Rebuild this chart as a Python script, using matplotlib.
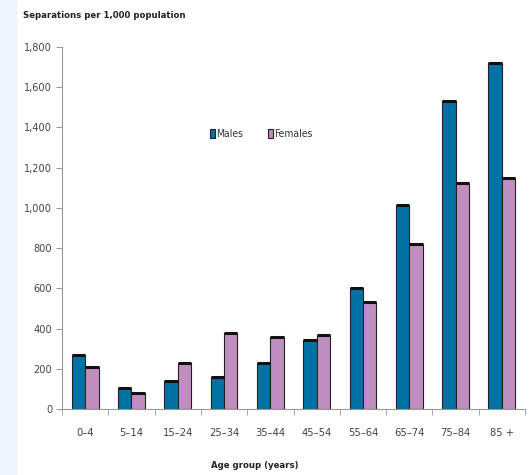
import numpy as np
import matplotlib.pyplot as plt
from matplotlib.patches import Rectangle

age_groups = ["0\u20134", "5\u201314", "15\u201324", "25\u201334", "35\u201344",
              "45\u201354", "55\u201364", "65\u201374", "75\u201384", "85 +"]
males = [268, 103, 137, 158, 230, 345, 602, 1015, 1530, 1722]
females = [207, 80, 230, 378, 358, 370, 532, 820, 1122, 1148]
yticks = [0, 200, 400, 600, 800, 1000, 1200, 1400, 1600, 1800]

plt.rcParams['font.family'] = ['DejaVu Sans Condensed', 'Liberation Sans Narrow', 'DejaVu Sans']
plt.rcParams['font.stretch'] = 'condensed'

fig = plt.figure(figsize=(5.29, 4.75), dpi=100)
# pale strip down the left edge
fig.patches.append(Rectangle((0, 0), 16 / 529, 1, transform=fig.transFigure,
                             color='#eef4fb', zorder=0))

ax = fig.add_axes([62 / 529, 1 - 409 / 475, 463 / 529, 362 / 475])

x = np.arange(len(age_groups))
w = 0.29
ax.bar(x - w / 2, males, w, color='#0072a3', edgecolor='#222222', linewidth=0.8, label='Males')
ax.bar(x + w / 2, females, w, color='#c08dbf', edgecolor='#222222', linewidth=0.8, label='Females')
# heavier dark cap on each bar
ax.hlines(males, x - w, x, colors='#111111', linewidth=2.2)
ax.hlines(females, x, x + w, colors='#111111', linewidth=2.2)

ax.set_xlim(-0.5, len(age_groups) - 0.5)
ax.set_ylim(0, 1800)
ax.set_yticks(yticks)
ax.set_yticklabels([f"{v:,}" for v in yticks])
ax.set_xticks(x)
ax.set_xticklabels(age_groups)
ax.set_xticks(np.arange(len(age_groups) + 1) - 0.5, minor=True)
ax.tick_params(axis='x', which='major', length=0, pad=14, labelsize=8, colors='#444444')
ax.tick_params(axis='x', which='minor', length=4, color='#999999')
ax.tick_params(axis='y', length=4, color='#999999', labelsize=7.8, labelcolor='#444444', pad=3)

for s in ['top', 'right']:
    ax.spines[s].set_visible(False)
ax.spines['left'].set_color('#999999')
ax.spines['bottom'].set_color('#999999')

fig.text(23 / 529, 1 - 15 / 475, "Separations per 1,000 population", fontsize=6.8,
         fontweight='semibold', color='#222222', va='center', ha='left')
fig.text(255 / 529, 1 - 465 / 475, "Age group (years)", fontsize=6.8,
         fontweight='semibold', color='#222222', va='center', ha='center')

ax.legend(loc='center', bbox_to_anchor=(0.43, 0.76), ncol=2, frameon=False,
          fontsize=7.5, handlelength=0.5, handleheight=0.9, handletextpad=0.1,
          columnspacing=2.4, labelcolor='#333333')

fig.savefig('out.png', dpi=100)
